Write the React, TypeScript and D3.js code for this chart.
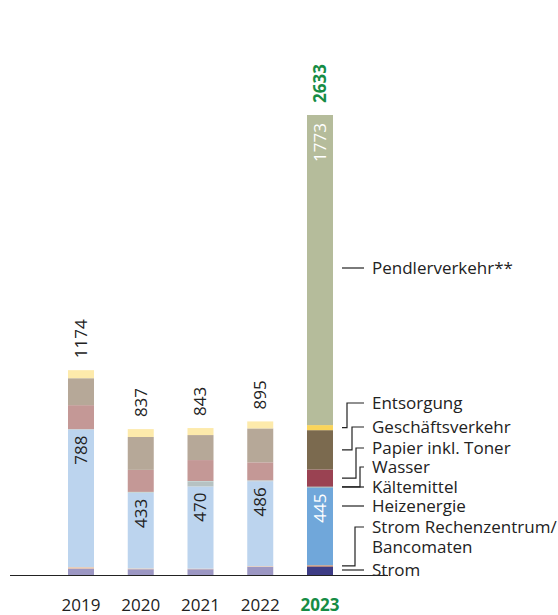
import React from "react";
import * as d3 from "d3";

const years = ["2019", "2020", "2021", "2022", "2023"];
const totals = [1174, 837, 843, 895, 2633];
const strom = [40, 36, 36, 50, 52];
const stromRZ = [7, 4, 3, 3, 6];
const heizenergie = [788, 433, 470, 486, 445];
const kaeltemittel = [2, 3, 29, 3, 3];
const wasser = [0, 2, 2, 2, 2];
const papier = [137, 126, 120, 103, 98];
const geschaeftsverkehr = [154, 188, 143, 194, 225];
const entsorgung = [46, 45, 40, 40, 29];
const pendlerverkehr = [0, 0, 0, 0, 1773];

const keys = ["strom", "stromRZ", "heizenergie", "kaeltemittel", "wasser", "papier", "geschaeftsverkehr", "entsorgung", "pendlerverkehr"];
const seriesValues: Record<string, number[]> = { strom, stromRZ, heizenergie, kaeltemittel, wasser, papier, geschaeftsverkehr, entsorgung, pendlerverkehr };

const colorsPast: Record<string, string> = {
  strom: "#9c97c3",
  stromRZ: "#f3bd8e",
  heizenergie: "#bcd4ee",
  kaeltemittel: "#b6c2c2",
  wasser: "#a9d3d2",
  papier: "#c49896",
  geschaeftsverkehr: "#b6a898",
  entsorgung: "#fdeaab",
  pendlerverkehr: "#b5bc9b",
};
const colorsCurrent: Record<string, string> = {
  strom: "#3d3c85",
  stromRZ: "#ec8238",
  heizenergie: "#70a7da",
  kaeltemittel: "#8fa6a6",
  wasser: "#5ba8a6",
  papier: "#9a4252",
  geschaeftsverkehr: "#7b6a4f",
  entsorgung: "#fad55b",
  pendlerverkehr: "#b5bc9b",
};

const legendLabels = ["Pendlerverkehr**", "Entsorgung", "Geschäftsverkehr", "Papier inkl. Toner", "Wasser", "Kältemittel", "Heizenergie", "Strom Rechenzentrum/\nBancomaten", "Strom"];
const legendKeys = ["pendlerverkehr", "entsorgung", "geschaeftsverkehr", "papier", "wasser", "kaeltemittel", "heizenergie", "stromRZ", "strom"];
// layout: label centre y, elbow x (null = straight line)
const legendY = [268, 403, 427, 448, 467, 487, 506, 527, 570];
const legendElbow: (number | null)[] = [null, 347, 352, 356, 360, null, null, 355, null];

const FONT = "'Open Sans', sans-serif";

export default function App() {
  const W = 558, H = 615;
  const baseY = 575.5;
  const x = d3.scalePoint<string>().domain(years).range([81, 320]);
  const y = d3.scaleLinear().domain([0, 2633]).range([baseY, 115]);
  const barW = 26;
  const rows = years.map((yr, i) => {
    const r: any = { year: yr };
    keys.forEach((k) => (r[k] = seriesValues[k][i]));
    return r;
  });
  const stacked = d3.stack<any>().keys(keys)(rows);
  const last = years.length - 1;
  const segOf = (key: string, i: number) => stacked[keys.indexOf(key)][i];

  return (
    <svg width={W} height={H} style={{ position: "absolute", left: 0, top: 0, fontFamily: FONT }}>
      {stacked.map((s) =>
        s.map((d, i) => {
          const h = y(d[0]) - y(d[1]);
          if (h <= 0) return null;
          const col = i === last ? colorsCurrent[s.key] : colorsPast[s.key];
          return <rect key={s.key + i} x={x(years[i])! - barW / 2} y={y(d[1])} width={barW} height={h} fill={col} />;
        })
      )}
      <line x1={10} x2={388} y1={baseY} y2={baseY} stroke="#222" strokeWidth={1} />
      {years.map((yr, i) => {
        const top = y(segOf("pendlerverkehr", i)[1]);
        const cx = x(yr)!;
        const isCur = i === last;
        return (
          <g key={"t" + yr}>
            <text transform={`translate(${cx},${top - 12}) rotate(-90)`} dy="0.35em" fontSize={17}
              fontWeight={isCur ? 700 : 400} fill={isCur ? "#168c45" : "#222"}>
              {totals[i]}
            </text>
            <text x={cx} y={611} textAnchor="middle" fontSize={17} fontWeight={isCur ? 700 : 400}
              fill={isCur ? "#168c45" : "#222"}>
              {yr}
            </text>
          </g>
        );
      })}
      {years.map((yr, i) => {
        const d = segOf("heizenergie", i);
        const cx = x(yr)!;
        const isCur = i === last;
        return (
          <text key={"h" + yr} transform={`translate(${cx},${y(d[1]) + 6}) rotate(-90)`} dy="0.35em"
            textAnchor="end" fontSize={17} fill={isCur ? "#fff" : "#222"}>
            {heizenergie[i]}
          </text>
        );
      })}
      {(() => {
        const d = segOf("pendlerverkehr", last);
        return (
          <text transform={`translate(${x(years[last])},${y(d[1]) + 8}) rotate(-90)`} dy="0.35em"
            textAnchor="end" fontSize={17} fill="#fff">
            {pendlerverkehr[last]}
          </text>
        );
      })()}
      {legendLabels.map((lab, j) => {
        const ly = legendY[j];
        const elbow = legendElbow[j];
        const d = segOf(legendKeys[j], last);
        const sy = y((d[0] + d[1]) / 2);
        const path = elbow == null
          ? `M342,${ly}H364`
          : `M342,${sy}H${elbow}V${ly}H364`;
        const lines = lab.split("\n");
        return (
          <g key={"l" + j}>
            <path d={path} fill="none" stroke="#222" strokeWidth={1.2} />
            {lines.map((ln, k) => (
              <text key={k} x={372} y={ly + k * 20} dy="0.35em" fontSize={17} fill="#222">
                {ln}
              </text>
            ))}
          </g>
        );
      })}
    </svg>
  );
}
